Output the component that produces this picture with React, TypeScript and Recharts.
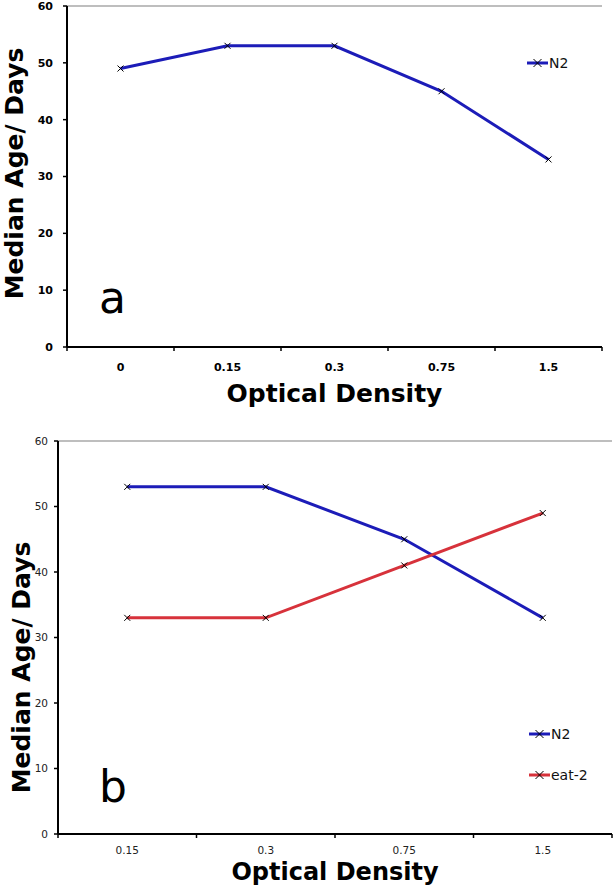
import React from 'react';
import { LineChart, Line, XAxis, YAxis, Legend, ReferenceLine } from 'recharts';

// panel a
const odA = ['0', '0.15', '0.3', '0.75', '1.5'];
const n2A = [49, 53, 53, 45, 33];

// panel b
const odB = ['0.15', '0.3', '0.75', '1.5'];
const n2B = [53, 53, 45, 33];
const eat2B = [33, 33, 41, 49];

const yTicks = [0, 10, 20, 30, 40, 50, 60];

const BLUE = '#1c1cb8';
const RED = '#d7323b';
const FONT = '"DejaVu Sans", Verdana, sans-serif';

const dataA = odA.map((od, i) => ({ od, n2: n2A[i] }));
const dataB = odB.map((od, i) => ({ od, n2: n2B[i], eat2: eat2B[i] }));

// X marker used on every point
const XDot = (props: any) => {
    const { cx, cy, r = 6 } = props;
    if (cx == null || cy == null) return null;
    return (
        <path
            d={`M${cx - r},${cy - r}L${cx + r},${cy + r}M${cx - r},${cy + r}L${cx + r},${cy - r}`}
            stroke="#000"
            strokeWidth={1}
            fill="none"
        />
    );
};

// category label in the middle, tick marks on the band edges
const BandTick = (props: any) => {
    const { x, y, payload, index, band, count, bold, size, dy } = props;
    const half = band / 2;
    return (
        <g>
            <line x1={x - half} x2={x - half} y1={y} y2={y + 4} stroke="#000" strokeWidth={1.5} />
            {index === count - 1 && (
                <line x1={x + half} x2={x + half} y1={y} y2={y + 4} stroke="#000" strokeWidth={1.5} />
            )}
            <text
                x={x}
                y={y + dy}
                textAnchor="middle"
                fontSize={size}
                fontWeight={bold ? 'bold' : 'normal'}
                fill={bold ? '#000' : '#222'}
            >
                {payload.value}
            </text>
        </g>
    );
};

const legendContent = (gap: number) => (props: any) => {
    const { payload = [] } = props;
    return (
        <div style={{ fontFamily: FONT }}>
            {payload.map((e: any, i: number) => (
                <div
                    key={e.value}
                    style={{ display: 'flex', alignItems: 'center', height: 16, marginTop: i ? gap : 0 }}
                >
                    <svg width={21} height={12}>
                        <line x1={0} x2={21} y1={6} y2={6} stroke={e.color} strokeWidth={3} />
                        <XDot cx={10.5} cy={6} r={4} />
                    </svg>
                    <span style={{ fontSize: 14, marginLeft: 1, color: '#111' }}>{e.value}</span>
                </div>
            ))}
        </div>
    );
};

const yTitle = (offset: number, dy: number, size: number) => ({
    value: 'Median Age/ Days',
    angle: -90,
    position: 'insideLeft' as const,
    offset,
    dy,
    style: { textAnchor: 'middle', fontSize: size, fontWeight: 'bold', fill: '#000' }
});

// plot geometry
const A_W = 616, A_H = 420, A_LEFT = 67, A_RIGHT = 14;
const B_W = 616, B_H = 472, B_LEFT = 58, B_RIGHT = 4;
const bandA = (A_W - A_LEFT - A_RIGHT) / odA.length;
const bandB = (B_W - B_LEFT - B_RIGHT) / odB.length;

export default function App() {
    return (
        <div
            style={{
                position: 'absolute',
                left: 0,
                top: 0,
                width: 616,
                height: 892,
                background: '#fff',
                fontFamily: FONT
            }}
        >
            <div style={{ position: 'absolute', left: 0, top: 0 }}>
                <LineChart width={A_W} height={A_H} data={dataA} margin={{ top: 6, right: A_RIGHT, left: 0, bottom: 0 }}>
                    <XAxis
                        dataKey="od"
                        height={73}
                        padding={{ left: bandA / 2, right: bandA / 2 }}
                        axisLine={{ stroke: '#000', strokeWidth: 2 }}
                        tickLine={false}
                        tickSize={0}
                        tickMargin={0}
                        interval={0}
                        tick={<BandTick band={bandA} count={odA.length} bold size={11} dy={24} />}
                        label={{
                            value: 'Optical Density',
                            position: 'insideBottom',
                            offset: 18,
                            style: { fontSize: 25, fontWeight: 'bold', fill: '#000' }
                        }}
                    />
                    <YAxis
                        width={A_LEFT}
                        domain={[0, 60]}
                        ticks={yTicks}
                        interval={0}
                        axisLine={{ stroke: '#000', strokeWidth: 2 }}
                        tickLine={{ stroke: '#000', strokeWidth: 1.5 }}
                        tickSize={4}
                        tickMargin={10}
                        tick={{ fontSize: 11, fontWeight: 'bold', fill: '#000' }}
                        label={yTitle(14, -3, 25)}
                    />
                    <YAxis
                        yAxisId="frame"
                        orientation="right"
                        width={0}
                        domain={[0, 60]}
                        tick={false}
                        tickLine={false}
                        axisLine={{ stroke: '#a8a8a8', strokeWidth: 1.5 }}
                    />
                    <ReferenceLine y={60} stroke="#a8a8a8" strokeWidth={1.5} />
                    <Legend
                        layout="vertical"
                        align="center"
                        verticalAlign="middle"
                        wrapperStyle={{ left: 527, top: 55, width: 80 }}
                        content={legendContent(0)}
                    />
                    <Line
                        type="linear"
                        dataKey="n2"
                        name="N2"
                        stroke={BLUE}
                        strokeWidth={3}
                        dot={<XDot />}
                        activeDot={false}
                        isAnimationActive={false}
                    />
                </LineChart>
            </div>

            <div style={{ position: 'absolute', left: 0, top: A_H }}>
                <LineChart width={B_W} height={B_H} data={dataB} margin={{ top: 21, right: B_RIGHT, left: 0, bottom: 0 }}>
                    <XAxis
                        dataKey="od"
                        height={58}
                        padding={{ left: bandB / 2, right: bandB / 2 }}
                        axisLine={{ stroke: '#000', strokeWidth: 2 }}
                        tickLine={false}
                        tickSize={0}
                        tickMargin={0}
                        interval={0}
                        tick={<BandTick band={bandB} count={odB.length} bold={false} size={10.5} dy={20} />}
                        label={{
                            value: 'Optical Density',
                            position: 'insideBottom',
                            offset: 12,
                            style: { fontSize: 24, fontWeight: 'bold', fill: '#000' }
                        }}
                    />
                    <YAxis
                        width={B_LEFT}
                        domain={[0, 60]}
                        ticks={yTicks}
                        interval={0}
                        axisLine={{ stroke: '#000', strokeWidth: 2 }}
                        tickLine={{ stroke: '#000', strokeWidth: 1.5 }}
                        tickSize={4}
                        tickMargin={6}
                        tick={{ fontSize: 10.5, fill: '#222' }}
                        label={yTitle(21, 30, 25)}
                    />
                    <YAxis
                        yAxisId="frame"
                        orientation="right"
                        width={0}
                        domain={[0, 60]}
                        tick={false}
                        tickLine={false}
                        axisLine={{ stroke: '#a8a8a8', strokeWidth: 1.5 }}
                    />
                    <ReferenceLine y={60} stroke="#a8a8a8" strokeWidth={1.5} />
                    <Legend
                        layout="vertical"
                        align="center"
                        verticalAlign="middle"
                        wrapperStyle={{ left: 529, top: 306, width: 85 }}
                        content={legendContent(25)}
                    />
                    <Line
                        type="linear"
                        dataKey="n2"
                        name="N2"
                        stroke={BLUE}
                        strokeWidth={3}
                        dot={<XDot />}
                        activeDot={false}
                        isAnimationActive={false}
                    />
                    <Line
                        type="linear"
                        dataKey="eat2"
                        name="eat-2"
                        stroke={RED}
                        strokeWidth={3}
                        dot={<XDot />}
                        activeDot={false}
                        isAnimationActive={false}
                    />
                </LineChart>
            </div>

            <div style={{ position: 'absolute', left: 99, top: 276, fontSize: 44, lineHeight: 1 }}>a</div>
            <div style={{ position: 'absolute', left: 99, top: 765, fontSize: 44, lineHeight: 1 }}>b</div>
        </div>
    );
}
